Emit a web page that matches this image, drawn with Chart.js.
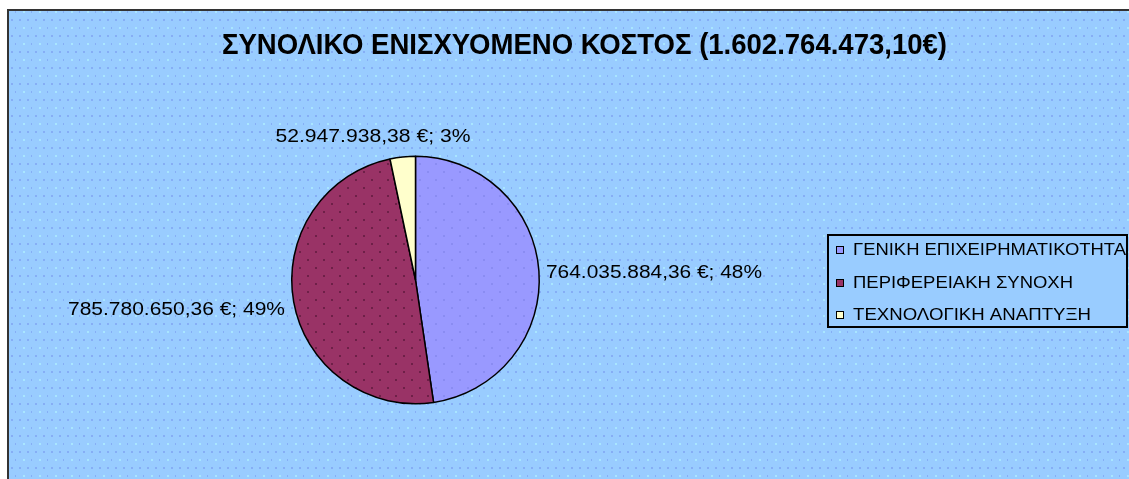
<!DOCTYPE html>
<html><head><meta charset="utf-8">
<script src="https://cdn.jsdelivr.net/npm/chart.js@4/dist/chart.umd.min.js"></script>
<style>html,body{margin:0;padding:0;background:#fff;overflow:hidden}canvas{display:block}</style>
</head><body>
<canvas id="c" width="1129" height="479"></canvas>
<script>
const titleText = 'ΣΥΝΟΛΙΚΟ ΕΝΙΣΧΥΟΜΕΝΟ ΚΟΣΤΟΣ (1.602.764.473,10€)';
const categories = ['ΓΕΝΙΚΗ ΕΠΙΧΕΙΡΗΜΑΤΙΚΟΤΗΤΑ', 'ΠΕΡΙΦΕΡΕΙΑΚΗ ΣΥΝΟΧΗ', 'ΤΕΧΝΟΛΟΓΙΚΗ ΑΝΑΠΤΥΞΗ'];
const values = [764035884.36, 785780650.36, 52947938.38];
const valueLabels = ['764.035.884,36 €', '785.780.650,36 €', '52.947.938,38 €'];
const percentLabels = ['48%', '49%', '3%'];
const colors = ['#9999FF', '#993366', '#FFFFCC'];

function makePattern(base, dots) {
  const t = document.createElement('canvas');
  t.width = 16; t.height = 16;
  const g = t.getContext('2d');
  g.fillStyle = base; g.fillRect(0, 0, 16, 16);
  dots.forEach(d => { g.fillStyle = d[2]; g.fillRect(d[0], d[1], 2, 2); });
  return g.createPattern(t, 'repeat');
}
const ctx0 = document.getElementById('c').getContext('2d');
const bgPattern = makePattern('#99CCFF', [[3,3,'#86aef5'],[11,3,'#86aef5'],[7,11,'#a9e6ff'],[15,11,'#86aef5']]);
const slicePatterns = [
  makePattern(colors[0], [[3,3,'#8a8cf2'],[11,11,'#8a8cf2']]),
  makePattern(colors[1], [[3,3,'#6e2048'],[11,11,'#6e2048']]),
  colors[2]
];

function fitText(ctx, text, x, y, w, align) {
  const m = ctx.measureText(text).width;
  const s = w / m;
  ctx.save();
  let x0 = x;
  if (align === 'center') x0 = x - w / 2;
  else if (align === 'right') x0 = x - w;
  ctx.translate(x0, y);
  ctx.scale(s, 1);
  ctx.textAlign = 'left';
  ctx.fillText(text, 0, 0);
  ctx.restore();
}

const bgPlugin = {
  id: 'bg',
  beforeDraw(chart) {
    const c = chart.ctx;
    c.save();
    c.fillStyle = '#fff';
    c.fillRect(0, 0, chart.width, chart.height);
    c.fillStyle = bgPattern;
    c.fillRect(9, 11, chart.width, chart.height);
    c.strokeStyle = '#333';
    c.lineWidth = 2;
    c.strokeRect(8, 10, chart.width + 10, chart.height + 10);
    // title
    c.fillStyle = '#000';
    c.font = 'bold 29px "Liberation Sans", Arial, sans-serif';
    c.textBaseline = 'alphabetic';
    fitText(c, titleText, 584.5, 54, 725, 'center');
    c.restore();
  },
  afterDraw(chart) {
    const c = chart.ctx;
    const meta = chart.getDatasetMeta(0);
    c.save();
    c.fillStyle = '#000';
    c.font = '18px "Liberation Sans", Arial, sans-serif';
    c.textBaseline = 'middle';
    const pos = [[546, 273, 216, 'left'], [285, 310, 217, 'right'], [373, 137, 195, 'center']];
    meta.data.forEach((arc, i) => {
      const p = pos[i];
      fitText(c, valueLabels[i] + '; ' + percentLabels[i], p[0], p[1], p[2], p[3]);
    });
    // legend
    c.fillStyle = '#99CCFF';
    c.fillRect(828, 235, 299, 92);
    c.strokeStyle = '#000';
    c.lineWidth = 2;
    c.strokeRect(828, 235, 299, 92);
    c.font = '16px "Liberation Sans", Arial, sans-serif';
    const ly = [250, 283, 315];
    const lw = [273, 220, 238];
    categories.forEach((name, i) => {
      c.fillStyle = colors[i];
      c.fillRect(836, ly[i] - 4, 8, 8);
      c.lineWidth = 1;
      c.strokeStyle = '#000';
      c.strokeRect(836.5, ly[i] - 3.5, 7, 7);
      c.fillStyle = '#000';
      fitText(c, name, 853, ly[i] + 1, lw[i], 'left');
    });
    c.restore();
  }
};

new Chart(ctx0, {
  type: 'pie',
  data: {
    labels: categories,
    datasets: [{
      data: values,
      backgroundColor: slicePatterns,
      borderColor: '#000',
      borderWidth: 1.5,
      hoverOffset: 0
    }]
  },
  options: {
    responsive: false,
    animation: false,
    events: [],
    layout: { padding: { left: 291, right: 589, top: 155, bottom: 74 } },
    plugins: { legend: { display: false }, tooltip: { enabled: false }, title: { display: false } }
  },
  plugins: [bgPlugin]
});
</script>
</body></html>
